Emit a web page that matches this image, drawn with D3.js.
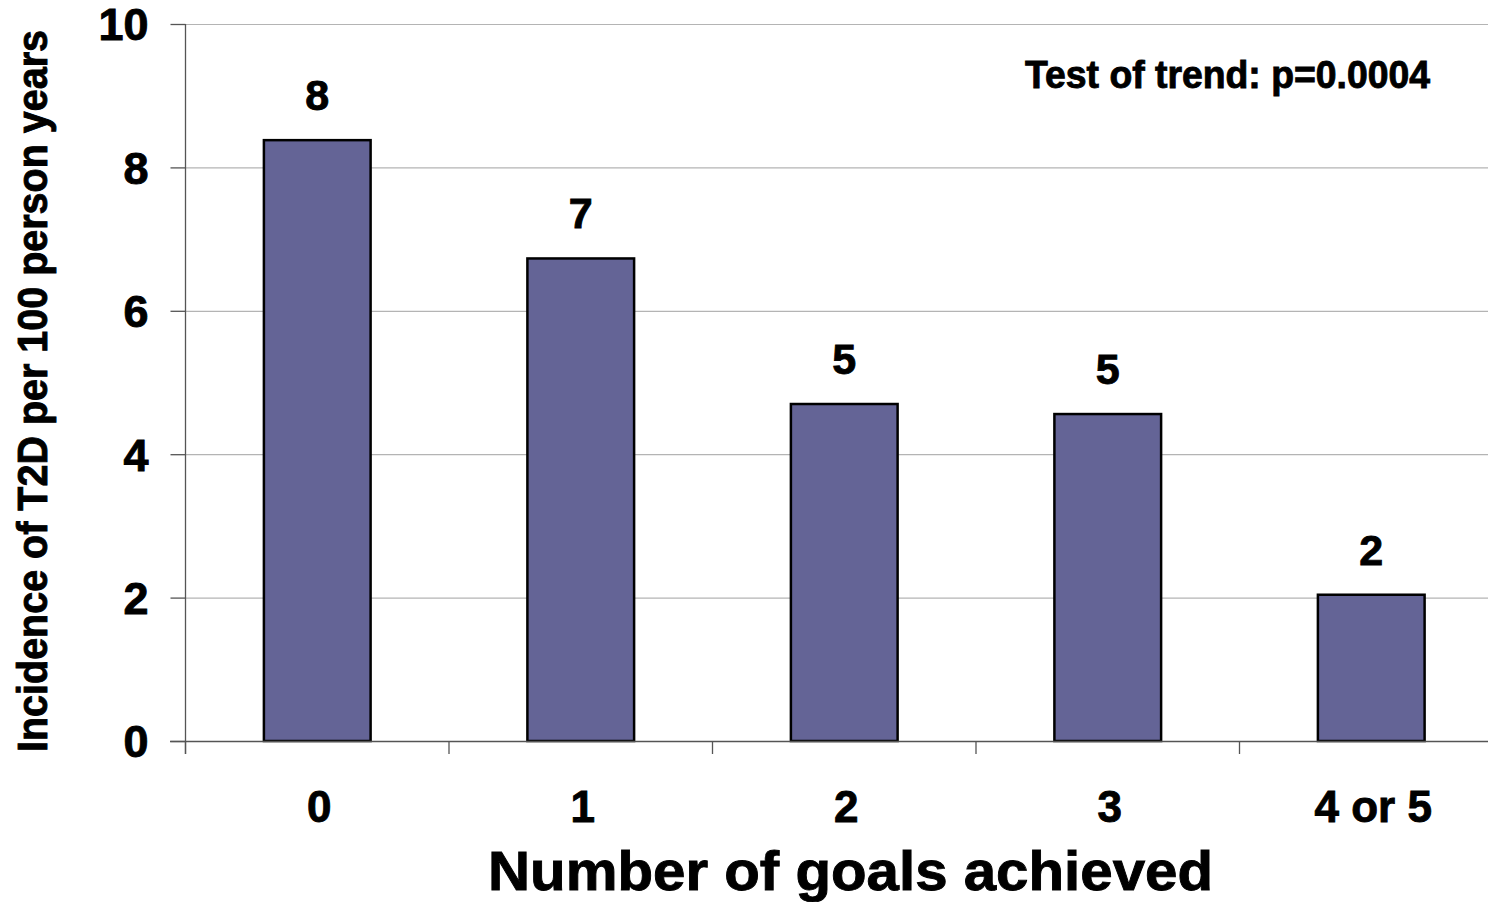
<!DOCTYPE html>
<html>
<head>
<meta charset="utf-8">
<script src="https://cdn.jsdelivr.net/npm/d3@7"></script>
<style>
  html, body { margin: 0; padding: 0; background: #fff; }
  svg { display: block; }
  text { font-family: "Liberation Sans", Arial, sans-serif; font-weight: bold; fill: #000; stroke: #000; stroke-width: 0.9px; }
</style>
</head>
<body>
<svg id="chart" width="1488" height="902"></svg>
<script>
const categories = ["0", "1", "2", "3", "4 or 5"];
const incidence = [8.38, 6.73, 4.70, 4.56, 2.04];
const yTicks = [0, 2, 4, 6, 8, 10];
const xTitle = "Number of goals achieved";
const yTitle = "Incidence of T2D per 100 person years";
const note = "Test of trend: p=0.0004";

(function () {
const svg = d3.select("#chart");
const W = 1488;
const mLeft = 185.5, mRight = 1503, mTop = 24, mBottom = 741;

const x = d3.scaleBand().domain(categories).range([mLeft, mRight]).padding(0);
const y = d3.scaleLinear().domain([0, 10]).range([mBottom, mTop]);
const barFrac = 0.405;

// gridlines
svg.append("g").selectAll("line").data(yTicks.filter(d => d > 0)).join("line")
  .attr("x1", mLeft).attr("x2", W)
  .attr("y1", d => y(d) + 0.5).attr("y2", d => y(d) + 0.5)
  .attr("stroke", "#b4b4b4").attr("stroke-width", 1.2);

// y axis
const yAxis = d3.axisLeft(y).tickValues(yTicks).tickSize(15).tickPadding(22).tickFormat(d3.format("d"));
const gy = svg.append("g").attr("transform", `translate(${mLeft},0)`).call(yAxis);
gy.select(".domain").remove();
gy.attr("font-family", null).attr("font-size", null);
gy.selectAll(".tick line").attr("stroke", "#555").attr("stroke-width", 1.3);
gy.selectAll(".tick text").style("font-size", "44px").attr("dy", "0.36em")
  .attr("textLength", d => d >= 10 ? 50 : 25).attr("lengthAdjust", "spacingAndGlyphs");
svg.append("line").attr("x1", mLeft).attr("x2", mLeft).attr("y1", mTop).attr("y2", mBottom + 13)
  .attr("stroke", "#555").attr("stroke-width", 1.3);

// bars
const bw = x.bandwidth() * barFrac;
svg.append("g").selectAll("rect").data(incidence).join("rect")
  .attr("x", (d, i) => x(categories[i]) + x.bandwidth() / 2 - bw / 2)
  .attr("y", d => y(d))
  .attr("width", bw)
  .attr("height", d => y(0) - y(d))
  .attr("fill", "#646496")
  .attr("stroke", "#000").attr("stroke-width", 2.5);

// x axis line
svg.append("line").attr("x1", 170).attr("x2", W).attr("y1", mBottom + 0.5).attr("y2", mBottom + 0.5)
  .attr("stroke", "#555").attr("stroke-width", 1.3);
const boundaries = categories.map(c => x(c)).concat([x(categories[categories.length - 1]) + x.bandwidth()]);
svg.append("g").selectAll("line").data(boundaries).join("line")
  .attr("x1", d => d).attr("x2", d => d).attr("y1", mBottom).attr("y2", mBottom + 13)
  .attr("stroke", "#555").attr("stroke-width", 1.3);

// x tick labels
svg.append("g").selectAll("text").data(categories).join("text")
  .attr("x", d => x(d) + x.bandwidth() / 2 + 2)
  .attr("y", 822)
  .attr("text-anchor", "middle")
  .style("font-size", "44px")
  .text(d => d);

// value labels
svg.append("g").selectAll("text").data(incidence).join("text")
  .attr("x", (d, i) => x(categories[i]) + x.bandwidth() / 2)
  .attr("y", d => y(d) - 30)
  .attr("text-anchor", "middle")
  .style("font-size", "43px")
  .text(d => d3.format(".0f")(d));

// note
svg.append("text").attr("x", 1025).attr("y", 88)
  .attr("textLength", 405).attr("lengthAdjust", "spacingAndGlyphs")
  .style("font-size", "38px").text(note);

// x title
svg.append("text").attr("x", 488).attr("y", 890)
  .attr("textLength", 725).attr("lengthAdjust", "spacingAndGlyphs")
  .style("font-size", "56px").text(xTitle);

// y title
svg.append("text").attr("transform", "translate(47,752) rotate(-90)")
  .attr("textLength", 722).attr("lengthAdjust", "spacingAndGlyphs")
  .style("font-size", "42px").text(yTitle);
})();
</script>
</body>
</html>
